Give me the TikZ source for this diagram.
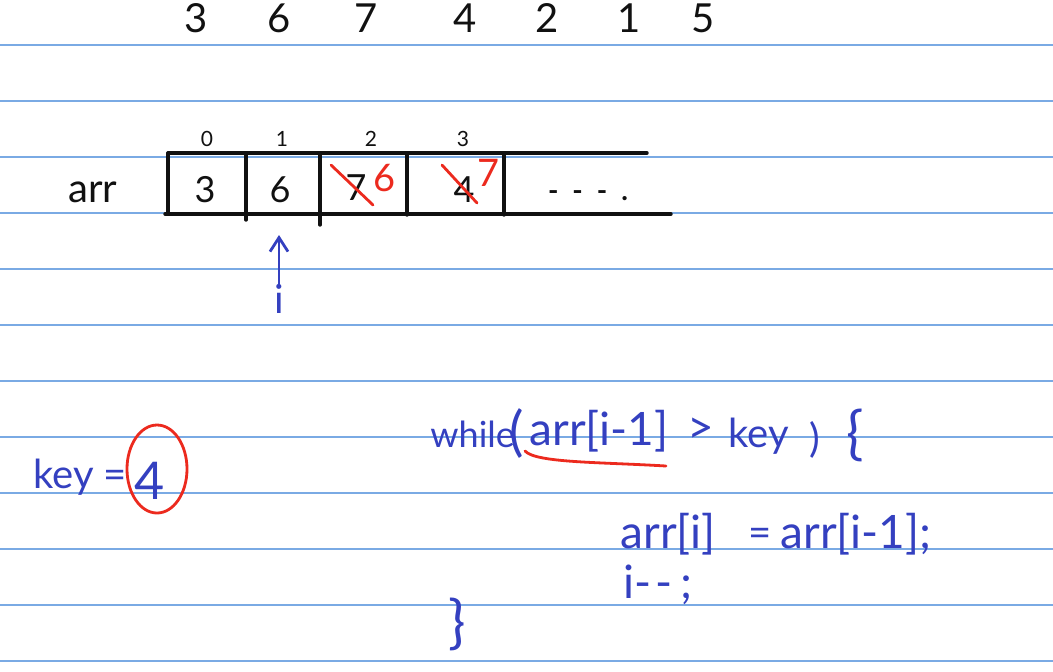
\documentclass[tikz,border=0pt]{standalone}
\usepackage{fontspec}
\setmainfont{Lato}
\usepackage{xcolor}
\usepackage{tikz}
\usetikzlibrary{arrows.meta,positioning,calc}
\definecolor{ruleblue}{HTML}{7AAAE4}
\definecolor{pen}{HTML}{3440C0}
\definecolor{redpen}{HTML}{EC2A1E}
\definecolor{ink}{HTML}{111111}
\tikzset{
  rule/.style={draw=ruleblue,line width=1pt},
  wall/.style={draw=ink,line width=1.7pt,line cap=round},
  topnum/.style={font=\fontsize{20}{22}\selectfont,text=ink,inner sep=0pt},
  idx/.style={font=\fontsize{10.5}{12}\selectfont,text=ink,inner sep=0pt},
  cellnum/.style={font=\fontsize{18}{20}\selectfont,text=ink,inner sep=0pt},
  fix/.style={font=\fontsize{19}{21}\selectfont,text=redpen,inner sep=0pt},
  hand/.style={font=\fontsize{20}{24}\selectfont,text=pen,inner sep=0pt,anchor=base west},
  code/.style={hand,font=\fontsize{23}{26}\selectfont},
  bighand/.style={text=pen,inner sep=0pt},
  strike/.style={draw=redpen,line width=1.4pt,line cap=round},
  ring/.style={draw=redpen,line width=1.4pt},
  pointer/.style={-{Straight Barb[length=7pt,width=9pt]},draw=pen,line width=1.4pt},
}

\begin{document}
\begin{tikzpicture}[x=0.5pt,y=-0.5pt]
    \fill[white] (0,0) rectangle (1053,671);
    \useasboundingbox (0,0) rectangle (1053,671);
    % ruled paper
    \foreach \y in {45,101,...,661}
      \draw[rule] (0,\y) -- (1053,\y);
    % input sequence
    \foreach \v/\x in {3/196,6/279,7/366,4/465,2/547,1/629,5/703}
      \node[topnum] (top\x) at (\x,18) {\v};
    % the array
    \node[hand,text=ink] (arrlbl) at (68,202) {arr};
    \draw[wall] (168,153) -- (647,153);
    \draw[wall] (165,214) -- (671,214);
    \foreach \x/\b in {168/214,246/220,320/225,407/215,504/215}
      \draw[wall] (\x,153) -- (\x,\b);
    \foreach \k/\x in {0/207,1/282,2/371,3/463}
      \node[idx] (idx\k) at (\x,139) {\k};
    \node[cellnum] (c0) at (205,190) {3};
    \node[cellnum] (c1) at (280,190) {6};
    \node[cellnum] (c2) at (356,188) {7};
    \node[cellnum] (c3) at (464,190) {4};
    \node[font=\fontsize{14}{16}\selectfont\bfseries,text=ink,inner sep=0pt] (rest) at (588,196)
      {-\hspace{7pt}-\hspace{7pt}-\hspace{7pt}.};
    % overwritten values
    \draw[strike] (331,165) -- (373,205);
    \node[fix] (n2) at (385,178) {6};
    \draw[strike] (442,165) -- (477,203);
    \node[fix] (n3) at (489,173) {7};
    % index pointer
    \node[hand,anchor=center] (iv) at (279,299) {i};
    \coordinate (c1foot) at (279,235);
    \draw[pointer] (iv.north) -- (c1foot);
    % key
    \node[hand] (keyl) at (33,488) {key};
    \node[hand] (keyeq) at (103,488) {=};
    \node[bighand,font=\fontsize{26}{28}\selectfont] (keyv) at (150,481) {4};
    \draw[ring] (157,469) ellipse [x radius=30,y radius=44];
    % loop
    \node[hand,font=\fontsize{18}{20}\selectfont] (wl) at (430,447) {while};
    \node[bighand,font=\fontsize{27}{30}\selectfont] (lp) at (517,434) {(};
    \node[code] (cond) at (529,445) {arr[i-1]};
    \node[hand,font=\fontsize{23}{26}\selectfont] (gt) at (687,443) {>};
    \node[hand] (kw) at (728,447) {key};
    \node[bighand,font=\fontsize{20}{22}\selectfont] (rp) at (815,440) {)};
    \node[bighand,font=\fontsize{29}{32}\selectfont] (lb) at (855,435) {\{};
    \draw[strike] (525,451) .. controls (536,463) and (600,462) .. (666,466);
    \node[code] (as1) at (620,548) {arr[i]};
    \node[hand] (eq1) at (748,546) {=};
    \node[code] (as2) at (780,548) {arr[i-1];};
    \node[code] (dec) at (623,598) {i-\hspace{2pt}-\hspace{4pt};};
    \node[bighand,font=\fontsize{29}{32}\selectfont] (rb) at (457,624) {\}};
\end{tikzpicture}
\end{document}
